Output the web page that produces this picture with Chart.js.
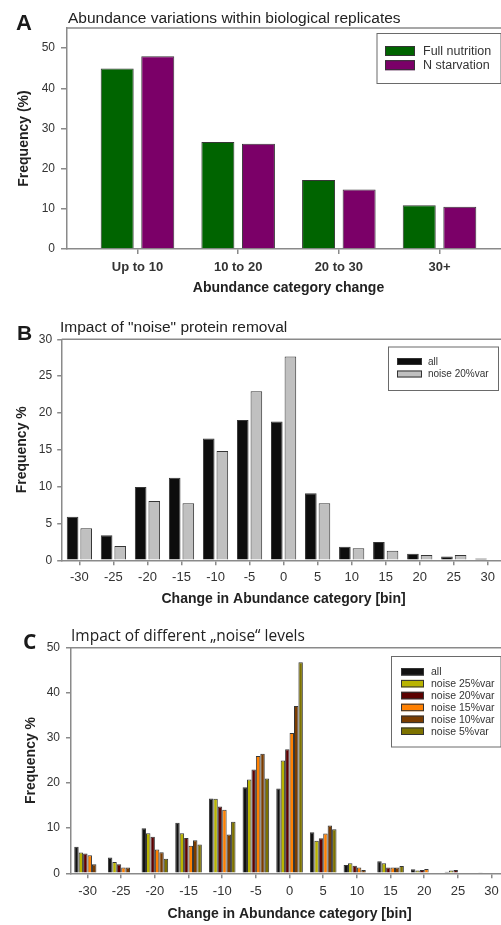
<!DOCTYPE html>
<html>
<head>
<meta charset="utf-8">
<script src="https://cdn.jsdelivr.net/npm/chart.js@4.4.0/dist/chart.umd.min.js"></script>
<style>
  html, body { margin: 0; padding: 0; background: #fff; }
  body { width: 501px; height: 925px; overflow: hidden; position: relative; font-family: "Liberation Sans", Arial, sans-serif; }
  .panel { position: absolute; left: 0; width: 520px; }
  .panel canvas { display: block; }
  .tag { position: absolute; font-weight: bold; line-height: 1; color: #1a1a1a; white-space: nowrap; }
  .ttl { position: absolute; line-height: 1; color: #222; white-space: nowrap; }
</style>
</head>
<body>
<div class="panel" style="top:0;height:300px"><canvas id="chartA" width="520" height="300"></canvas></div>
<div class="panel" style="top:300px;height:312px"><canvas id="chartB" width="520" height="312"></canvas></div>
<div class="panel" style="top:612px;height:313px"><canvas id="chartC" width="520" height="313"></canvas></div>

<div class="tag" style="left:16px;top:12px;font-size:22px">A</div>
<div class="ttl" style="left:68px;top:9.6px;font-size:15.5px">Abundance variations within biological replicates</div>
<div class="tag" style="left:17px;top:322px;font-size:21px">B</div>
<div class="ttl" style="left:60px;top:319px;font-size:15.5px">Impact of "noise" protein removal</div>
<div class="tag" style="left:23px;top:631px;font-size:21px;font-family:'Open Sans',sans-serif">C</div>
<div class="ttl" style="left:71px;top:628px;font-size:15.5px;font-family:'Open Sans',sans-serif">Impact of different „noise“ levels</div>

<script>
// panel A: abundance category change between replicates
var abundanceCats = ['Up to 10', '10 to 20', '20 to 30', '30+'];
var abundancePos = [1, 2, 3, 4];
var fullNutrition = [44.9, 26.6, 17.2, 10.9];
var nStarvation = [48.0, 26.2, 14.8, 10.5];
var ticksA = [0, 10, 20, 30, 40, 50];

// panels B and C: change in abundance category [bin]
var bins = [-30, -25, -20, -15, -10, -5, 0, 5, 10, 15, 20, 25, 30];
var allB = [5.9, 3.4, 9.95, 11.2, 16.55, 19.05, 18.85, 9.1, 1.85, 2.5, 0.9, 0.5, 0.25];
var noise20B = [4.35, 1.95, 8.05, 7.75, 14.85, 22.95, 27.65, 7.75, 1.65, 1.3, 0.72, 0.72, 0];
var ticksB = [0, 5, 10, 15, 20, 25, 30];

var allC = [5.9, 3.5, 10.0, 11.2, 16.6, 19.05, 18.8, 9.1, 1.85, 2.66, 0.89, 0.37, 0.22];
var noise25C = [4.6, 2.5, 8.9, 8.9, 16.5, 20.8, 25.0, 7.2, 2.2, 2.2, 0.6, 0.6, 0];
var noise20C = [4.4, 2.0, 8.1, 7.8, 14.8, 23.0, 27.5, 7.75, 1.7, 1.26, 0.74, 0.74, 0];
var noise15C = [4.0, 1.3, 5.3, 6.1, 14.1, 26.0, 31.1, 8.8, 1.26, 1.26, 0.96, 0, 0];
var noise10C = [2.0, 1.3, 4.65, 7.3, 8.6, 26.5, 37.1, 10.6, 0.74, 1.26, 0, 0, 0];
var noise5C = [0, 0, 3.25, 6.4, 11.4, 21.0, 46.8, 9.75, 0, 1.6, 0, 0, 0];
var ticksC = [0, 10, 20, 30, 40, 50];

var AXIS = '#8a8a8a';
var BAR_EDGE = '#363636';

Chart.defaults.font.family = '"Liberation Sans", Arial, sans-serif';
Chart.defaults.color = '#333';

function toPoints(xs, ys) {
	return xs.map(function(x, i) { return { x: x, y: ys[i] }; });
}

function barSet(label, xs, ys, color, catPct, barPct) {
	return {
		label: label,
		data: toPoints(xs, ys),
		backgroundColor: color,
		borderColor: BAR_EDGE,
		borderWidth: 1,
		categoryPercentage: catPct,
		barPercentage: barPct
	};
}

function axisY(o) {
	return {
		min: 0,
		max: o.max,
		afterFit: function(s) { s.width = o.width; },
		afterBuildTicks: function(s) { s.ticks = o.ticks.map(function(v) { return { value: v }; }); },
		border: { display: true, color: AXIS, width: 1.5 },
		grid: { drawOnChartArea: false, drawTicks: true, tickLength: o.tick, color: AXIS, lineWidth: 1.5 },
		ticks: { padding: o.pad, color: '#333', font: { size: 12 } },
		title: { display: true, text: o.title, color: '#222', padding: 0, font: { size: 14, weight: 'bold' } }
	};
}

function axisX(o) {
	return {
		type: 'linear',
		min: o.min,
		max: o.max,
		offset: false,
		afterFit: function(s) { s.height = o.height; },
		afterBuildTicks: function(s) { s.ticks = o.ticks.map(function(v) { return { value: v }; }); },
		border: { display: true, color: AXIS, width: 1.5 },
		grid: { offset: false, drawOnChartArea: false, drawTicks: true, tickLength: 5, color: AXIS, lineWidth: 1.5 },
		ticks: {
			padding: o.pad, color: '#333', autoSkip: false, maxRotation: 0,
			font: { size: 13, weight: o.bold ? 'bold' : 'normal' },
			callback: o.label
		},
		title: { display: true, text: o.title, color: '#222', padding: 0, font: { size: 14, weight: 'bold' } }
	};
}

// top frame line and the boxed legend
var decor = {
	id: 'decor',
	afterDraw: function(chart, args, opts) {
		var ctx = chart.ctx;
		var a = chart.chartArea;
		ctx.save();
		ctx.strokeStyle = AXIS;
		ctx.lineWidth = 1.5;
		ctx.beginPath();
		ctx.moveTo(a.left, a.top);
		ctx.lineTo(a.right, a.top);
		ctx.stroke();

		var b = opts.box;
		ctx.fillStyle = '#fff';
		ctx.fillRect(b.left, b.top, b.width, b.height);
		ctx.strokeStyle = '#6a6a6a';
		ctx.lineWidth = 1;
		ctx.strokeRect(b.left + 0.5, b.top + 0.5, b.width, b.height);

		ctx.font = opts.font + 'px "Liberation Sans", Arial, sans-serif';
		ctx.textBaseline = 'middle';
		ctx.textAlign = 'left';
		chart.data.datasets.forEach(function(ds, i) {
			var y = opts.rowTop + i * opts.rowH;
			ctx.fillStyle = ds.backgroundColor;
			ctx.fillRect(opts.swX, y, opts.swW, opts.swH);
			ctx.strokeStyle = '#333';
			ctx.lineWidth = 1;
			ctx.strokeRect(opts.swX + 0.5, y + 0.5, opts.swW - 1, opts.swH - 1);
			ctx.fillStyle = '#333';
			ctx.fillText(ds.label, opts.textX, y + opts.swH / 2 + 0.5);
		});
		ctx.restore();
	}
};

function makeChart(id, datasets, scales, padding, legendOpts) {
	return new Chart(document.getElementById(id), {
		type: 'bar',
		data: { datasets: datasets },
		plugins: [decor],
		options: {
			responsive: false,
			animation: false,
			layout: { padding: padding },
			plugins: { legend: { display: false }, tooltip: { enabled: false }, decor: legendOpts },
			scales: scales
		}
	});
}

makeChart('chartA',
	[
		barSet('Full nutrition', abundancePos, fullNutrition, '#006400', 0.806, 0.813),
		barSet('N starvation', abundancePos, nStarvation, '#7b0068', 0.806, 0.813)
	],
	{
		x: axisX({ min: 0.3, max: 4.7, height: 47.9, pad: 6, bold: true, ticks: abundancePos,
			title: 'Abundance category change',
			label: function(v) { return abundanceCats[v - 1]; } }),
		y: axisY({ max: 55, width: 51.4, tick: 6, pad: 6, ticks: ticksA, title: 'Frequency (%)' })
	},
	{ left: 15.6, top: 28, right: 10, bottom: 3.1 },
	{ box: { left: 376.5, top: 33, width: 124, height: 50 },
	  swX: 385, swW: 30, swH: 10, rowTop: 46, rowH: 14.2, textX: 423, font: 12.5 }
);

makeChart('chartB',
	[
		barSet('all', bins, allB, '#0d0d0d', 0.80, 0.853),
		barSet('noise 20%var', bins, noise20B, '#c0c0c0', 0.80, 0.853)
	],
	{
		x: axisX({ min: -32.6, max: 32.6, height: 47.1, pad: 4.5, ticks: bins,
			title: 'Change in Abundance category [bin]',
			label: function(v) { return String(v); } }),
		y: axisY({ max: 30, width: 47.6, tick: 4.5, pad: 5, ticks: ticksB, title: 'Frequency %' })
	},
	{ left: 14.1, top: 39.3, right: 14.5, bottom: 4.6 },
	{ box: { left: 388, top: 46.5, width: 110, height: 43.5 },
	  swX: 397, swW: 25, swH: 7, rowTop: 58, rowH: 12.5, textX: 428, font: 10 }
);

makeChart('chartC',
	[
		barSet('all', bins, allC, '#111111', 0.79, 1),
		barSet('noise 25%var', bins, noise25C, '#b9b400', 0.79, 1),
		barSet('noise 20%var', bins, noise20C, '#5c0000', 0.79, 1),
		barSet('noise 15%var', bins, noise15C, '#ff8000', 0.79, 1),
		barSet('noise 10%var', bins, noise10C, '#7a3c00', 0.79, 1),
		barSet('noise 5%var', bins, noise5C, '#7d7200', 0.79, 1)
	],
	{
		x: axisX({ min: -32.5, max: 32.5, height: 49.4, pad: 5, ticks: bins,
			title: 'Change in Abundance category [bin]',
			label: function(v) { return String(v); } }),
		y: axisY({ max: 50, width: 47.8, tick: 4.7, pad: 6, ticks: ticksC, title: 'Frequency %' })
	},
	{ left: 22.9, top: 35.7, right: 11.6, bottom: 2.3 },
	{ box: { left: 391, top: 44, width: 109.5, height: 90.5 },
	  swX: 401, swW: 23, swH: 7.5, rowTop: 56, rowH: 11.9, textX: 431, font: 10.5 }
);
</script>
</body>
</html>
